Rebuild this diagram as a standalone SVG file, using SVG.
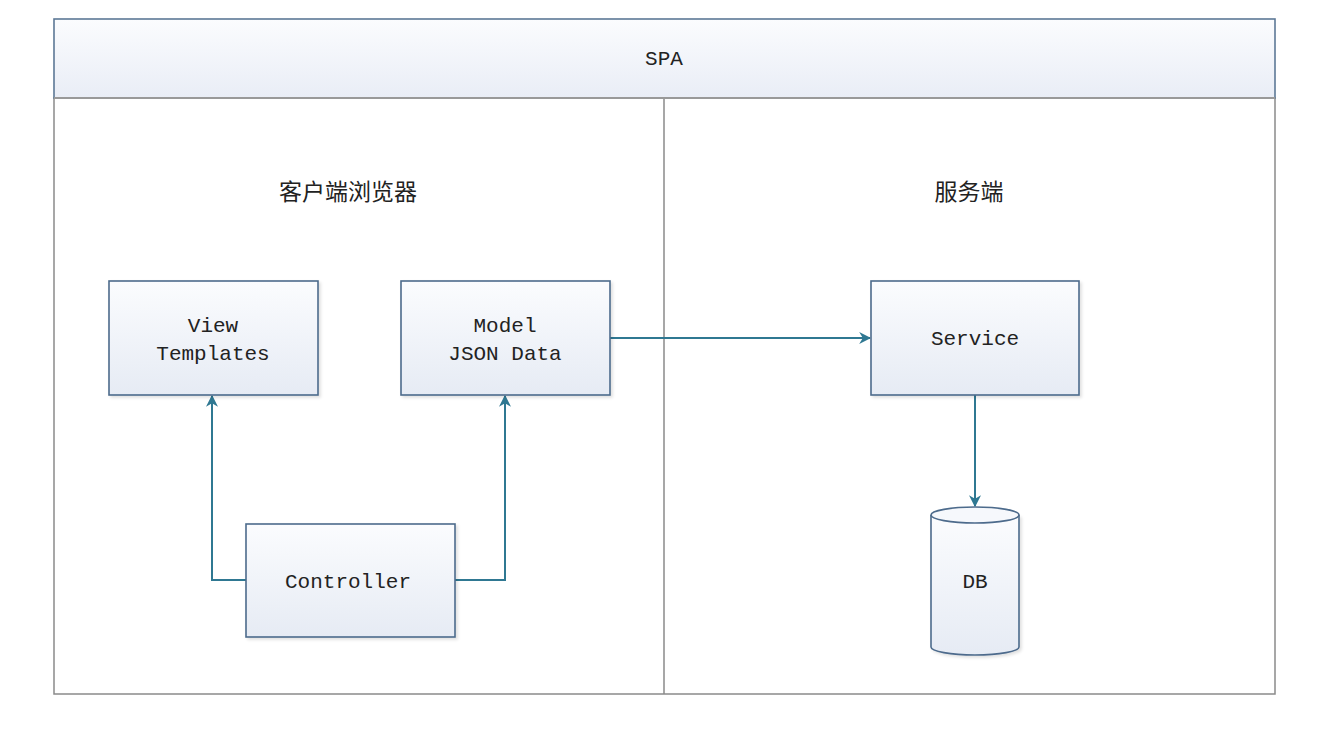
<svg xmlns="http://www.w3.org/2000/svg" width="1338" height="736" viewBox="0 0 1338 736">
<defs>
<linearGradient id="g" x1="0" y1="0" x2="0" y2="1"><stop offset="0" stop-color="#fbfcfe"/><stop offset="1" stop-color="#e6ebf4"/></linearGradient>
<linearGradient id="gh" x1="0" y1="0" x2="0" y2="1"><stop offset="0" stop-color="#fbfcfe"/><stop offset="1" stop-color="#e9edf6"/></linearGradient>
<marker id="a" viewBox="0 0 10 10" refX="9" refY="5" markerWidth="12" markerHeight="12" markerUnits="userSpaceOnUse" orient="auto"><path d="M0,0 L10,5 L0,10 L3,5 Z" fill="#2f7892"/></marker>
<filter id="sh" x="-5%" y="-5%" width="115%" height="115%"><feDropShadow dx="2" dy="2" stdDeviation="1.5" flood-color="#000" flood-opacity="0.12"/></filter>
</defs>
<style>
.box{fill:url(#g);stroke:#4d6b8c;stroke-width:1.6;filter:url(#sh)}
.t{font-family:"Liberation Mono","Noto Sans CJK SC",monospace;font-size:21px;fill:#222;text-anchor:middle}
.c{font-family:"Noto Sans CJK SC",sans-serif;font-size:23px;fill:#222;text-anchor:middle}
.ln{fill:none;stroke:#2f7892;stroke-width:2;marker-end:url(#a)}
</style>
<rect width="1338" height="736" fill="#fff"/>
<g id="frame">
<rect x="54" y="98" width="1221" height="596" fill="#fff" stroke="#8a8a8a" stroke-width="1.5"/>
<line x1="664" y1="98" x2="664" y2="694" stroke="#8a8a8a" stroke-width="1.5"/>
<rect x="54" y="19" width="1221" height="79" fill="url(#gh)" stroke="#5d7896" stroke-width="1.6"/>
<line x1="54" y1="98" x2="1275" y2="98" stroke="#999" stroke-width="2"/>
<text class="t" x="664" y="65">SPA</text>
<text class="c" x="348" y="200">客户端浏览器</text>
<text class="c" x="969" y="200">服务端</text>
</g>
<g id="connectors">
<path class="ln" d="M246,580 H212 V396"/>
<path class="ln" d="M455,580 H505 V396"/>
<path class="ln" d="M610,338 H870"/>
<path class="ln" d="M975,395 V506"/>
</g>
<g id="view"><rect class="box" x="109" y="281" width="209" height="114"/><text class="t" x="213" y="332">View</text><text class="t" x="213" y="360">Templates</text></g>
<g id="model"><rect class="box" x="401" y="281" width="209" height="114"/><text class="t" x="505" y="332">Model</text><text class="t" x="505" y="360">JSON Data</text></g>
<g id="service"><rect class="box" x="871" y="281" width="208" height="114"/><text class="t" x="975" y="345">Service</text></g>
<g id="controller"><rect class="box" x="246" y="524" width="209" height="113"/><text class="t" x="348" y="588">Controller</text></g>
<g id="db">
<path d="M931,515 V647 A44,8 0 0 0 1019,647 V515" fill="url(#g)" stroke="#4d6b8c" stroke-width="1.6" filter="url(#sh)"/>
<ellipse cx="975" cy="515" rx="44" ry="8" fill="#f6f8fc" stroke="#4d6b8c" stroke-width="1.6"/>
<text class="t" x="975" y="588">DB</text>
</g>
</svg>
